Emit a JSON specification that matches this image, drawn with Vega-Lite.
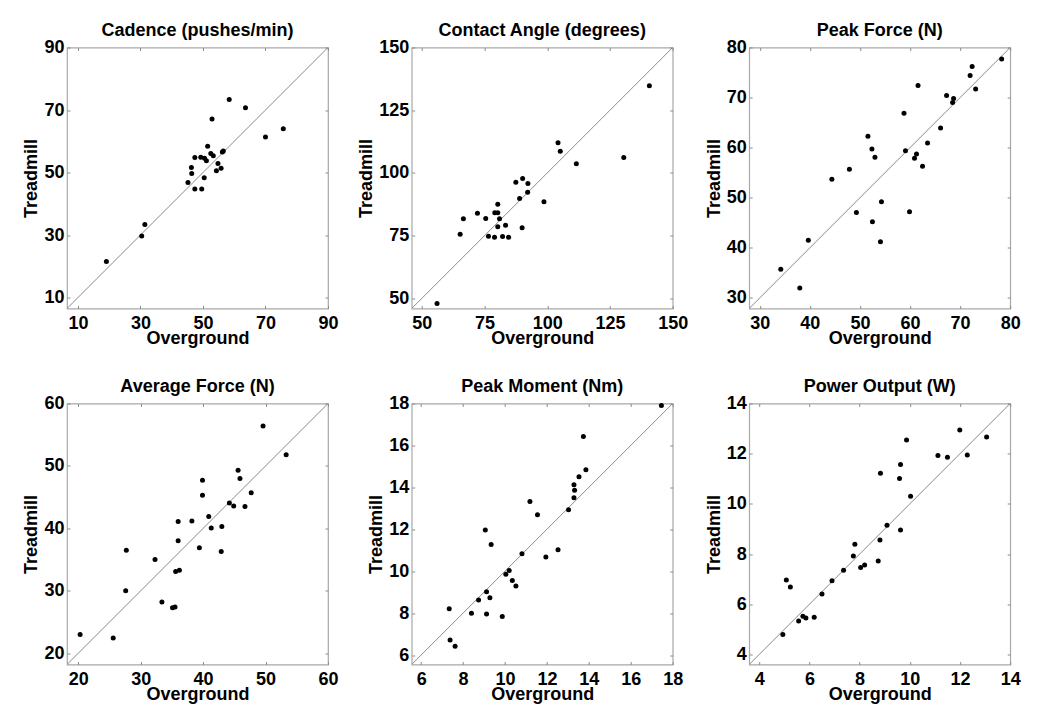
{
  "$schema": "https://vega.github.io/schema/vega-lite/v6.json",
  "padding": {"left": 22, "top": 20.5, "right": 0, "bottom": 0},
  "background": "white",
  "datasets": {
    "cad": [
      {"overground": 19.1, "treadmill": 21.5}, {"overground": 30.4, "treadmill": 29.7}, {"overground": 31.4, "treadmill": 33.4},
      {"overground": 45.2, "treadmill": 46.8}, {"overground": 47.4, "treadmill": 44.7}, {"overground": 49.6, "treadmill": 44.7},
      {"overground": 46.3, "treadmill": 51.6}, {"overground": 46.4, "treadmill": 49.7}, {"overground": 47.4, "treadmill": 54.8},
      {"overground": 49.3, "treadmill": 54.9}, {"overground": 50.5, "treadmill": 54.6}, {"overground": 51.1, "treadmill": 53.8},
      {"overground": 50.4, "treadmill": 48.3}, {"overground": 51.5, "treadmill": 58.4}, {"overground": 52.9, "treadmill": 67.1},
      {"overground": 52.5, "treadmill": 56.1}, {"overground": 53.3, "treadmill": 55.4}, {"overground": 54.8, "treadmill": 52.9},
      {"overground": 54.3, "treadmill": 50.6}, {"overground": 55.8, "treadmill": 51.4}, {"overground": 56.2, "treadmill": 56.6},
      {"overground": 56.5, "treadmill": 56.9}, {"overground": 58.4, "treadmill": 73.4}, {"overground": 63.6, "treadmill": 70.7},
      {"overground": 70.0, "treadmill": 61.4}, {"overground": 75.7, "treadmill": 64.0}
    ],
    "cad_line": [{"overground": 6.5, "treadmill": 6.5}, {"overground": 90, "treadmill": 90}],
    "ang": [
      {"overground": 56.1, "treadmill": 48.0}, {"overground": 65.3, "treadmill": 75.6}, {"overground": 66.6, "treadmill": 81.8},
      {"overground": 72.2, "treadmill": 84.0}, {"overground": 75.5, "treadmill": 81.9}, {"overground": 76.6, "treadmill": 74.8},
      {"overground": 79.0, "treadmill": 74.4}, {"overground": 79.1, "treadmill": 84.2}, {"overground": 80.3, "treadmill": 84.2},
      {"overground": 80.3, "treadmill": 87.5}, {"overground": 80.3, "treadmill": 78.6}, {"overground": 81.0, "treadmill": 81.8},
      {"overground": 82.2, "treadmill": 74.7}, {"overground": 83.4, "treadmill": 79.2}, {"overground": 84.6, "treadmill": 74.4},
      {"overground": 87.5, "treadmill": 96.3}, {"overground": 89.0, "treadmill": 89.8}, {"overground": 90.2, "treadmill": 97.8},
      {"overground": 90.0, "treadmill": 78.2}, {"overground": 92.2, "treadmill": 92.3}, {"overground": 92.3, "treadmill": 95.8},
      {"overground": 98.7, "treadmill": 88.5}, {"overground": 104.3, "treadmill": 112.0}, {"overground": 105.2, "treadmill": 108.7},
      {"overground": 111.6, "treadmill": 103.7}, {"overground": 130.5, "treadmill": 106.2}, {"overground": 140.7, "treadmill": 134.8}
    ],
    "ang_line": [{"overground": 46, "treadmill": 46}, {"overground": 150, "treadmill": 150}],
    "pf": [
      {"overground": 34.2, "treadmill": 35.75}, {"overground": 38.0, "treadmill": 32.0}, {"overground": 39.7, "treadmill": 41.5},
      {"overground": 44.4, "treadmill": 53.7}, {"overground": 47.9, "treadmill": 55.7}, {"overground": 49.3, "treadmill": 47.05},
      {"overground": 51.6, "treadmill": 62.3}, {"overground": 52.4, "treadmill": 59.75}, {"overground": 52.5, "treadmill": 45.2},
      {"overground": 53.0, "treadmill": 58.1}, {"overground": 54.1, "treadmill": 41.2}, {"overground": 54.3, "treadmill": 49.2},
      {"overground": 58.8, "treadmill": 66.9}, {"overground": 59.1, "treadmill": 59.4}, {"overground": 59.9, "treadmill": 47.2},
      {"overground": 60.9, "treadmill": 57.9}, {"overground": 61.3, "treadmill": 58.75}, {"overground": 61.6, "treadmill": 72.4},
      {"overground": 62.5, "treadmill": 56.3}, {"overground": 63.5, "treadmill": 60.95}, {"overground": 66.1, "treadmill": 63.95},
      {"overground": 67.3, "treadmill": 70.4}, {"overground": 68.5, "treadmill": 69.0}, {"overground": 68.7, "treadmill": 69.8},
      {"overground": 72.0, "treadmill": 74.4}, {"overground": 72.4, "treadmill": 76.2}, {"overground": 73.1, "treadmill": 71.7},
      {"overground": 78.3, "treadmill": 77.7}
    ],
    "pf_line": [{"overground": 27.9, "treadmill": 27.9}, {"overground": 80, "treadmill": 80}],
    "af": [
      {"overground": 20.3, "treadmill": 23.0}, {"overground": 25.6, "treadmill": 22.45}, {"overground": 27.6, "treadmill": 30.0},
      {"overground": 27.7, "treadmill": 36.5}, {"overground": 32.3, "treadmill": 35.0}, {"overground": 33.4, "treadmill": 28.2},
      {"overground": 35.1, "treadmill": 27.3}, {"overground": 35.5, "treadmill": 27.4}, {"overground": 35.6, "treadmill": 33.1},
      {"overground": 36.2, "treadmill": 33.3}, {"overground": 36.0, "treadmill": 41.1}, {"overground": 36.0, "treadmill": 38.0},
      {"overground": 38.2, "treadmill": 41.2}, {"overground": 39.4, "treadmill": 36.9}, {"overground": 39.9, "treadmill": 47.7},
      {"overground": 39.9, "treadmill": 45.3}, {"overground": 40.9, "treadmill": 41.9}, {"overground": 41.3, "treadmill": 40.05},
      {"overground": 43.0, "treadmill": 40.3}, {"overground": 42.9, "treadmill": 36.3}, {"overground": 44.2, "treadmill": 44.05},
      {"overground": 44.9, "treadmill": 43.6}, {"overground": 45.6, "treadmill": 49.3}, {"overground": 45.9, "treadmill": 48.0},
      {"overground": 46.7, "treadmill": 43.5}, {"overground": 47.7, "treadmill": 45.7}, {"overground": 49.6, "treadmill": 56.4},
      {"overground": 53.3, "treadmill": 51.8}
    ],
    "af_line": [{"overground": 18.2, "treadmill": 18.2}, {"overground": 60, "treadmill": 60}],
    "pm": [
      {"overground": 7.34, "treadmill": 8.21}, {"overground": 7.38, "treadmill": 6.72}, {"overground": 7.62, "treadmill": 6.42},
      {"overground": 8.4, "treadmill": 8.0}, {"overground": 8.74, "treadmill": 8.63}, {"overground": 9.06, "treadmill": 11.97},
      {"overground": 9.12, "treadmill": 7.96}, {"overground": 9.12, "treadmill": 9.02}, {"overground": 9.28, "treadmill": 8.74},
      {"overground": 9.34, "treadmill": 11.28}, {"overground": 9.87, "treadmill": 7.84}, {"overground": 10.04, "treadmill": 9.85},
      {"overground": 10.2, "treadmill": 10.03}, {"overground": 10.35, "treadmill": 9.56}, {"overground": 10.52, "treadmill": 9.29},
      {"overground": 10.81, "treadmill": 10.83}, {"overground": 11.19, "treadmill": 13.33}, {"overground": 11.55, "treadmill": 12.69},
      {"overground": 11.95, "treadmill": 10.68}, {"overground": 12.53, "treadmill": 11.02}, {"overground": 13.03, "treadmill": 12.93},
      {"overground": 13.29, "treadmill": 14.12}, {"overground": 13.32, "treadmill": 13.86}, {"overground": 13.29, "treadmill": 13.51},
      {"overground": 13.53, "treadmill": 14.5}, {"overground": 13.74, "treadmill": 16.43}, {"overground": 13.86, "treadmill": 14.84},
      {"overground": 17.46, "treadmill": 17.9}
    ],
    "pm_line": [{"overground": 5.55, "treadmill": 5.55}, {"overground": 18, "treadmill": 18}],
    "po": [
      {"overground": 4.94, "treadmill": 4.8}, {"overground": 5.08, "treadmill": 6.97}, {"overground": 5.24, "treadmill": 6.69},
      {"overground": 5.57, "treadmill": 5.33}, {"overground": 5.74, "treadmill": 5.52}, {"overground": 5.86, "treadmill": 5.45},
      {"overground": 6.19, "treadmill": 5.48}, {"overground": 6.5, "treadmill": 6.41}, {"overground": 6.9, "treadmill": 6.94},
      {"overground": 7.36, "treadmill": 7.36}, {"overground": 7.75, "treadmill": 7.92}, {"overground": 7.81, "treadmill": 8.39},
      {"overground": 8.04, "treadmill": 7.47}, {"overground": 8.2, "treadmill": 7.56}, {"overground": 8.74, "treadmill": 7.72},
      {"overground": 8.81, "treadmill": 8.56}, {"overground": 8.83, "treadmill": 11.22}, {"overground": 9.09, "treadmill": 9.15},
      {"overground": 9.59, "treadmill": 11.01}, {"overground": 9.63, "treadmill": 11.57}, {"overground": 9.63, "treadmill": 8.96},
      {"overground": 9.87, "treadmill": 12.55}, {"overground": 10.03, "treadmill": 10.3}, {"overground": 11.12, "treadmill": 11.93},
      {"overground": 11.5, "treadmill": 11.86}, {"overground": 11.99, "treadmill": 12.94}, {"overground": 12.29, "treadmill": 11.95},
      {"overground": 13.06, "treadmill": 12.67}
    ],
    "po_line": [{"overground": 3.6, "treadmill": 3.6}, {"overground": 14, "treadmill": 14}]
  },
  "spacing": 17.7,
  "hconcat": [
    {
      "vconcat": [
        {
          "width": 261, "height": 261,
          "title": "Cadence (pushes/min)",
          "layer": [
            {"data": {"name": "cad_line"}, "mark": {"type": "line", "color": "#8a8a8a", "strokeWidth": 1, "clip": true},
             "encoding": {
               "x": {"field": "overground", "type": "quantitative", "scale": {"domain": [6.5, 90], "nice": false, "zero": false}, "axis": {"orient": "bottom", "values": [10, 30, 50, 70, 90], "title": "Overground"}},
               "y": {"field": "treadmill", "type": "quantitative", "scale": {"domain": [6.5, 90], "nice": false, "zero": false}, "axis": {"orient": "left", "values": [10, 30, 50, 70, 90], "title": "Treadmill"}}}},
            {"data": {"name": "cad"}, "mark": {"type": "circle", "color": "black", "size": 25, "opacity": 1},
             "encoding": {
               "x": {"field": "overground", "type": "quantitative", "scale": {"domain": [6.5, 90], "nice": false, "zero": false}, "axis": {"orient": "top", "values": [10, 30, 50, 70, 90], "labels": false, "title": null}},
               "y": {"field": "treadmill", "type": "quantitative", "scale": {"domain": [6.5, 90], "nice": false, "zero": false}, "axis": {"orient": "right", "values": [10, 30, 50, 70, 90], "labels": false, "title": null}}}}
          ],
          "resolve": {"axis": {"x": "independent", "y": "independent"}}
        },
        {
          "width": 261, "height": 261,
          "title": "Average Force (N)",
          "layer": [
            {"data": {"name": "af_line"}, "mark": {"type": "line", "color": "#8a8a8a", "strokeWidth": 1, "clip": true},
             "encoding": {
               "x": {"field": "overground", "type": "quantitative", "scale": {"domain": [18.2, 60], "nice": false, "zero": false}, "axis": {"orient": "bottom", "values": [20, 30, 40, 50, 60], "title": "Overground"}},
               "y": {"field": "treadmill", "type": "quantitative", "scale": {"domain": [18.2, 60], "nice": false, "zero": false}, "axis": {"orient": "left", "values": [20, 30, 40, 50, 60], "title": "Treadmill"}}}},
            {"data": {"name": "af"}, "mark": {"type": "circle", "color": "black", "size": 25, "opacity": 1},
             "encoding": {
               "x": {"field": "overground", "type": "quantitative", "scale": {"domain": [18.2, 60], "nice": false, "zero": false}, "axis": {"orient": "top", "values": [20, 30, 40, 50, 60], "labels": false, "title": null}},
               "y": {"field": "treadmill", "type": "quantitative", "scale": {"domain": [18.2, 60], "nice": false, "zero": false}, "axis": {"orient": "right", "values": [20, 30, 40, 50, 60], "labels": false, "title": null}}}}
          ],
          "resolve": {"axis": {"x": "independent", "y": "independent"}}
        }
      ],
      "spacing": 95,
      "bounds": "flush"
    },
    {
      "spacing": 15.5,
      "hconcat": [
        {
          "vconcat": [
            {
              "width": 261, "height": 261,
              "title": "Contact Angle (degrees)",
              "layer": [
                {"data": {"name": "ang_line"}, "mark": {"type": "line", "color": "#8a8a8a", "strokeWidth": 1, "clip": true},
                 "encoding": {
                   "x": {"field": "overground", "type": "quantitative", "scale": {"domain": [46, 150], "nice": false, "zero": false}, "axis": {"orient": "bottom", "values": [50, 75, 100, 125, 150], "title": "Overground"}},
                   "y": {"field": "treadmill", "type": "quantitative", "scale": {"domain": [46, 150], "nice": false, "zero": false}, "axis": {"orient": "left", "values": [50, 75, 100, 125, 150], "title": "Treadmill"}}}},
                {"data": {"name": "ang"}, "mark": {"type": "circle", "color": "black", "size": 25, "opacity": 1},
                 "encoding": {
                   "x": {"field": "overground", "type": "quantitative", "scale": {"domain": [46, 150], "nice": false, "zero": false}, "axis": {"orient": "top", "values": [50, 75, 100, 125, 150], "labels": false, "title": null}},
                   "y": {"field": "treadmill", "type": "quantitative", "scale": {"domain": [46, 150], "nice": false, "zero": false}, "axis": {"orient": "right", "values": [50, 75, 100, 125, 150], "labels": false, "title": null}}}}
              ],
              "resolve": {"axis": {"x": "independent", "y": "independent"}}
            },
            {
              "width": 261, "height": 261,
              "title": "Peak Moment (Nm)",
              "layer": [
                {"data": {"name": "pm_line"}, "mark": {"type": "line", "color": "#8a8a8a", "strokeWidth": 1, "clip": true},
                 "encoding": {
                   "x": {"field": "overground", "type": "quantitative", "scale": {"domain": [5.55, 18], "nice": false, "zero": false}, "axis": {"orient": "bottom", "values": [6, 8, 10, 12, 14, 16, 18], "title": "Overground"}},
                   "y": {"field": "treadmill", "type": "quantitative", "scale": {"domain": [5.55, 18], "nice": false, "zero": false}, "axis": {"orient": "left", "values": [6, 8, 10, 12, 14, 16, 18], "title": "Treadmill"}}}},
                {"data": {"name": "pm"}, "mark": {"type": "circle", "color": "black", "size": 25, "opacity": 1},
                 "encoding": {
                   "x": {"field": "overground", "type": "quantitative", "scale": {"domain": [5.55, 18], "nice": false, "zero": false}, "axis": {"orient": "top", "values": [6, 8, 10, 12, 14, 16, 18], "labels": false, "title": null}},
                   "y": {"field": "treadmill", "type": "quantitative", "scale": {"domain": [5.55, 18], "nice": false, "zero": false}, "axis": {"orient": "right", "values": [6, 8, 10, 12, 14, 16, 18], "labels": false, "title": null}}}}
              ],
              "resolve": {"axis": {"x": "independent", "y": "independent"}}
            }
          ],
          "spacing": 95,
          "bounds": "flush"
        },
        {
          "vconcat": [
            {
              "width": 261, "height": 261,
              "title": "Peak Force (N)",
              "layer": [
                {"data": {"name": "pf_line"}, "mark": {"type": "line", "color": "#8a8a8a", "strokeWidth": 1, "clip": true},
                 "encoding": {
                   "x": {"field": "overground", "type": "quantitative", "scale": {"domain": [27.9, 80], "nice": false, "zero": false}, "axis": {"orient": "bottom", "values": [30, 40, 50, 60, 70, 80], "title": "Overground"}},
                   "y": {"field": "treadmill", "type": "quantitative", "scale": {"domain": [27.9, 80], "nice": false, "zero": false}, "axis": {"orient": "left", "values": [30, 40, 50, 60, 70, 80], "title": "Treadmill"}}}},
                {"data": {"name": "pf"}, "mark": {"type": "circle", "color": "black", "size": 25, "opacity": 1},
                 "encoding": {
                   "x": {"field": "overground", "type": "quantitative", "scale": {"domain": [27.9, 80], "nice": false, "zero": false}, "axis": {"orient": "top", "values": [30, 40, 50, 60, 70, 80], "labels": false, "title": null}},
                   "y": {"field": "treadmill", "type": "quantitative", "scale": {"domain": [27.9, 80], "nice": false, "zero": false}, "axis": {"orient": "right", "values": [30, 40, 50, 60, 70, 80], "labels": false, "title": null}}}}
              ],
              "resolve": {"axis": {"x": "independent", "y": "independent"}}
            },
            {
              "width": 261, "height": 261,
              "title": "Power Output (W)",
              "layer": [
                {"data": {"name": "po_line"}, "mark": {"type": "line", "color": "#8a8a8a", "strokeWidth": 1, "clip": true},
                 "encoding": {
                   "x": {"field": "overground", "type": "quantitative", "scale": {"domain": [3.6, 14], "nice": false, "zero": false}, "axis": {"orient": "bottom", "values": [4, 6, 8, 10, 12, 14], "title": "Overground"}},
                   "y": {"field": "treadmill", "type": "quantitative", "scale": {"domain": [3.6, 14], "nice": false, "zero": false}, "axis": {"orient": "left", "values": [4, 6, 8, 10, 12, 14], "title": "Treadmill"}}}},
                {"data": {"name": "po"}, "mark": {"type": "circle", "color": "black", "size": 25, "opacity": 1},
                 "encoding": {
                   "x": {"field": "overground", "type": "quantitative", "scale": {"domain": [3.6, 14], "nice": false, "zero": false}, "axis": {"orient": "top", "values": [4, 6, 8, 10, 12, 14], "labels": false, "title": null}},
                   "y": {"field": "treadmill", "type": "quantitative", "scale": {"domain": [3.6, 14], "nice": false, "zero": false}, "axis": {"orient": "right", "values": [4, 6, 8, 10, 12, 14], "labels": false, "title": null}}}}
              ],
              "resolve": {"axis": {"x": "independent", "y": "independent"}}
            }
          ],
          "spacing": 95,
          "bounds": "flush"
        }
      ]
    }
  ],
  "config": {
    "font": "Liberation Sans",
    "view": {"stroke": "#a8a8a8", "strokeWidth": 1.2},
    "axis": {
      "domain": false, "grid": false, "ticks": true, "tickSize": -3, "tickColor": "#8c8c8c", "tickWidth": 1,
      "labelFont": "Liberation Sans", "labelFontSize": 18, "labelFontWeight": "bold", "labelColor": "#000000",
      "labelOverlap": false, "labelFlush": false,
      "titleFont": "Liberation Sans", "titleFontSize": 18, "titleFontWeight": "bold", "titleColor": "#000000"
    },
    "axisBottom": {"labelPadding": 9, "titlePadding": -3},
    "axisLeft": {"labelPadding": 6, "titlePadding": 3},
    "title": {"font": "Liberation Sans", "fontSize": 18, "fontWeight": "bold", "color": "#000000", "offset": -1.5, "baseline": "alphabetic", "anchor": "middle", "frame": "group"}
  }
}
